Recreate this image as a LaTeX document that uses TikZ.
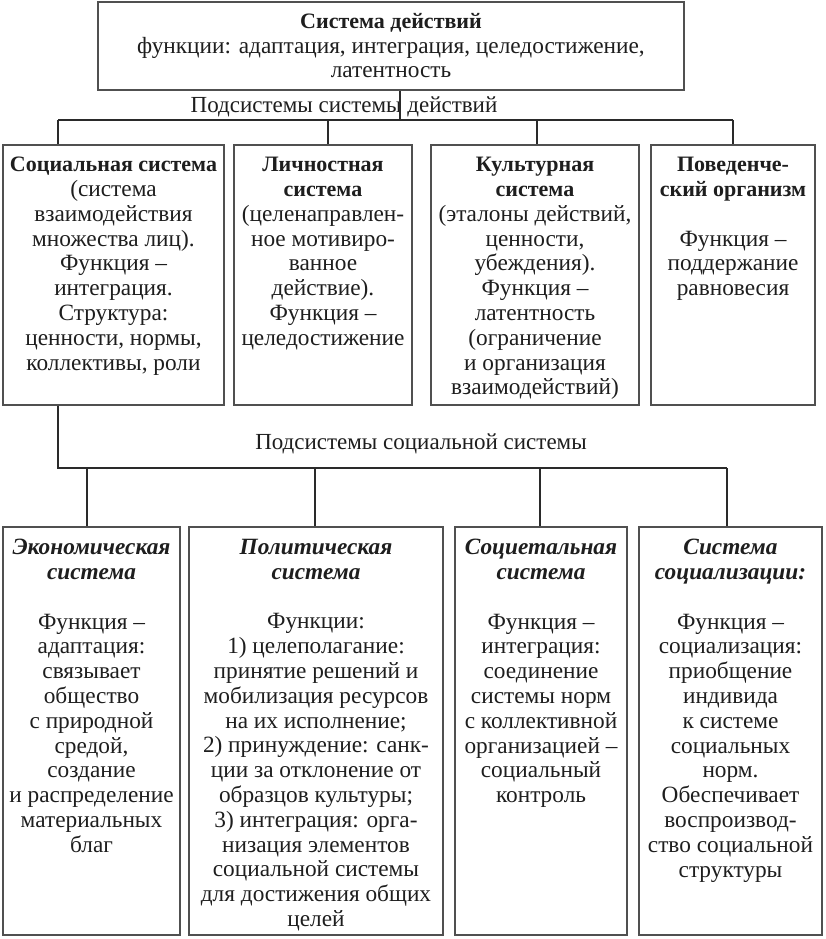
\documentclass[tikz,border=0pt]{standalone}
\usepackage{fontspec}
\setmainfont{Liberation Serif}
\definecolor{boxc}{HTML}{505050}
\definecolor{linec}{HTML}{2A2A2A}
\definecolor{txtc}{HTML}{1E1E1E}
\newcommand{\boxtitle}[1]{{\fontsize{22}{24.8}\selectfont\textbf{#1}}}
\begin{document}
\begin{tikzpicture}[x=1pt,y=-1pt,
  box/.style={draw=boxc, line width=1.2pt, inner sep=0pt, fill=none},
  txt/.style={anchor=north, align=center, inner sep=0pt, text=txtc,
    font=\fontsize{23.3}{24.8}\selectfont, execute at begin node=\strut},
  lbl/.style={anchor=base, inner sep=0pt, text=txtc, font=\fontsize{23}{24.8}\selectfont},
  conn/.style={draw=linec, line width=1.4pt}]
\useasboundingbox (0,0) rectangle (825,939);
\fill[white] (0,0) rectangle (825,939);

% top box
\node[box, minimum width=586pt, minimum height=88pt] (top) at (391,46) {};
\node[txt] (toptxt) at (391,13) {\boxtitle{Система действий}\\функции: адаптация, интеграция, целедостижение,\\латентность};

% first row boxes
\node[box, minimum width=221pt, minimum height=260pt] (soc) at (113.5,275) {};
\node[box, minimum width=178pt, minimum height=260pt] (lich) at (323,275) {};
\node[box, minimum width=208pt, minimum height=260pt] (kult) at (535,275) {};
\node[box, minimum width=164pt, minimum height=260pt] (poved) at (733,275) {};

\node[txt] (soctxt) at (113.5,157) {\boxtitle{Социальная система}\\(система\\взаимодействия\\множества лиц).\\Функция –\\интеграция.\\Структура:\\ценности, нормы,\\коллективы, роли};
\node[txt] (lichtxt) at (323,157) {\boxtitle{Личностная}\\\boxtitle{система}\\(целенаправлен-\\ное мотивиро-\\ванное\\действие).\\Функция –\\целедостижение};
\node[txt] (kulttxt) at (535,157) {\boxtitle{Культурная}\\\boxtitle{система}\\(эталоны действий,\\ценности,\\убеждения).\\Функция –\\латентность\\(ограничение\\и организация\\взаимодействий)};
\node[txt] (povedtxt) at (733,157) {\boxtitle{Поведенче-}\\\boxtitle{ский организм}\\[24.8pt]Функция –\\поддержание\\равновесия};

% second row boxes
\node[box, minimum width=177pt, minimum height=408pt] (econ) at (91.5,731) {};
\node[box, minimum width=254pt, minimum height=408pt] (polit) at (316,731) {};
\node[box, minimum width=172pt, minimum height=408pt] (societ) at (541,731) {};
\node[box, minimum width=183pt, minimum height=408pt] (socz) at (730.5,731) {};

\node[txt] (econtxt) at (91.5,539) {\textbf{\textit{Экономическая}}\\\textbf{\textit{система}}\\[24.8pt]Функция –\\адаптация:\\связывает\\общество\\с природной\\средой,\\создание\\и распределение\\материальных\\благ};
\node[txt] (polittxt) at (316,539) {\textbf{\textit{Политическая}}\\\textbf{\textit{система}}\\[24.8pt]Функции:\\1) целеполагание:\\принятие решений и\\мобилизация ресурсов\\на их исполнение;\\2) принуждение: санк-\\ции за отклонение от\\образцов культуры;\\3) интеграция: орга-\\низация элементов\\социальной системы\\для достижения общих\\целей};
\node[txt] (societtxt) at (541,539) {\textbf{\textit{Социетальная}}\\\textbf{\textit{система}}\\[24.8pt]Функция –\\интеграция:\\соединение\\системы норм\\с коллективной\\организацией –\\социальный\\контроль};
\node[txt] (socztxt) at (730.5,539) {\textbf{\textit{Система}}\\\textbf{\textit{социализации:}}\\[24.8pt]Функция –\\социализация:\\приобщение\\индивида\\к системе\\социальных\\норм.\\Обеспечивает\\воспроизвод-\\ство социальной\\структуры};

% labels
\node[lbl] (lab1) at (344,113) {Подсистемы системы действий};
\node[lbl] (lab2) at (421,449) {Подсистемы социальной системы};

% connectors, upper bus
\coordinate (b1) at (400,120);
\coordinate (b1l) at (58,120);
\coordinate (b1b) at (328,120);
\coordinate (b1c) at (537,120);
\coordinate (b1r) at (733,120);
\draw[conn] (top.south -| b1) -- (b1);
\draw[conn] (b1l) -- (b1r);
\draw[conn] (b1l) -- (b1l |- soc.north);
\draw[conn] (b1b) -- (b1b |- lich.north);
\draw[conn] (b1c) -- (b1c |- kult.north);
\draw[conn] (b1r) -- (b1r |- poved.north);

% lower bus
\coordinate (b2l) at (58,468);
\coordinate (b2a) at (87,468);
\coordinate (b2b) at (315,468);
\coordinate (b2c) at (540,468);
\coordinate (b2r) at (727,468);
\draw[conn] (b2l |- soc.south) -- (b2l) -- (b2r);
\draw[conn] (b2a) -- (b2a |- econ.north);
\draw[conn] (b2b) -- (b2b |- polit.north);
\draw[conn] (b2c) -- (b2c |- societ.north);
\draw[conn] (b2r) -- (b2r |- socz.north);
\end{tikzpicture}
\end{document}
